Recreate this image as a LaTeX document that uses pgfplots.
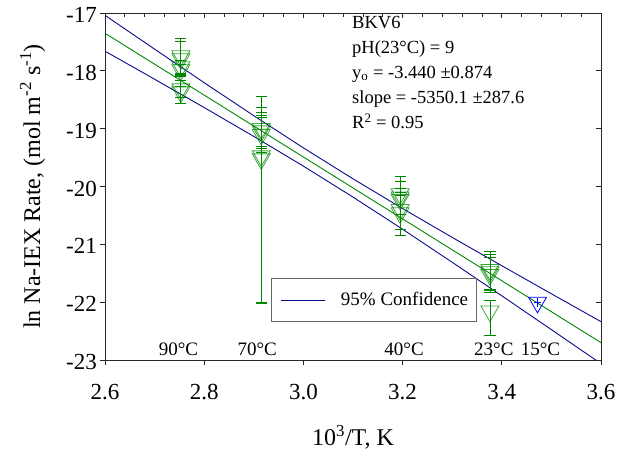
\documentclass[border=0pt]{standalone}
\usepackage{fontspec}
\setmainfont{Liberation Serif}
\usepackage{pgfplots}
\usepackage{pgfplotstable}
\pgfplotsset{compat=1.18}

\definecolor{fitgreen}{RGB}{0,135,0}
\definecolor{bandblue}{RGB}{10,10,140}
\definecolor{ptblue}{RGB}{0,0,255}

% green points: x, ln rate, error up, error down
\pgfplotstableread{
x      y        ep    em
2.753  -17.744  0.30  0.30
2.753  -17.796  0.31  0.30
2.753  -17.934  0.12  0.12
2.753  -17.986  0.10  0.10
2.753  -18.315  0.15  0.15
2.753  -18.367  0.10  0.19
2.915  -19.000  0.37  0.30
2.915  -19.042  0.28  0.30
2.915  -19.102  0.29  0.30
2.915  -19.474  1.03  2.53
2.915  -19.526  0.80  2.50
3.195  -20.128  0.31  0.35
3.195  -20.185  0.27  0.30
3.195  -20.227  0.20  0.25
3.195  -20.400  0.30  0.35
3.195  -20.457  0.30  0.38
3.376  -21.438  0.31  0.35
3.376  -21.478  0.31  0.36
3.376  -21.524  0.30  0.25
3.376  -22.156  0.19  0.41
}\greenpts

\pgfplotstableread{
x      y        ex     ey
3.472  -22.005  0.008  0.07
}\bluepts

% regression and 95% band
\pgfplotstableread{
x    fit      up       lo
2.6  -17.350  -17.040  -17.660
2.7  -17.885  -17.625  -18.145
2.8  -18.420  -18.205  -18.635
2.9  -18.955  -18.776  -19.134
3.0  -19.490  -19.332  -19.648
3.1  -20.025  -19.867  -20.183
3.2  -20.560  -20.381  -20.739
3.3  -21.095  -20.880  -21.310
3.4  -21.630  -21.370  -21.890
3.5  -22.165  -21.855  -22.475
3.6  -22.700  -22.337  -23.063
}\fitband

\pgfplotsset{
  frame/.style={
    at={(105bp,91bp)}, anchor=south west,
    scale only axis, width=496bp, height=347bp,
    xmin=2.6, xmax=3.6, ymin=-23, ymax=-17,
    axis line style={line width=0.8bp, black!85},
    every tick/.style={line width=0.8bp, black!85},
    major tick length=5bp, minor tick length=3.5bp,
  },
}

\begin{document}
\begin{tikzpicture}
\path[use as bounding box] (0,0) rectangle (624bp,451bp);

% top / right ticks inward
\begin{axis}[frame,
  tick align=inside,
  xtick pos=top, ytick pos=right,
  xtick={2.6,2.8,3.0,3.2,3.4,3.6}, minor x tick num=4,
  ytick={-23,-22,-21,-20,-19,-18,-17},
  xticklabels={}, yticklabels={},
]
\end{axis}

% bottom minor ticks inward
\begin{axis}[frame,
  tick align=inside,
  xtick pos=bottom, ytick pos=left,
  xtick=\empty, ytick=\empty,
  minor xtick={2.64,2.68,2.72,2.76,2.84,2.88,2.92,2.96,3.04,3.08,3.12,3.16,3.24,3.28,3.32,3.36,3.44,3.48,3.52,3.56},
]
\end{axis}

% main axis with data
\begin{axis}[frame,
  tick align=outside,
  xtick pos=bottom, ytick pos=left,
  xtick={2.6,2.8,3.0,3.2,3.4,3.6},
  ytick={-23,-22,-21,-20,-19,-18,-17},
  /pgf/number format/assume math mode=true,
  tick label style={font=\fontsize{23bp}{27bp}\selectfont, inner sep=0pt},
  xticklabel style={anchor=north, yshift=-19bp,
    /pgf/number format/.cd, fixed, fixed zerofill, precision=1},
  yticklabel style={anchor=east, xshift=-3bp, yshift=-2bp},
  xlabel={10\textsuperscript{3}/T, K},
  ylabel={ln Na-IEX Rate, (mol m\textsuperscript{-2} s\textsuperscript{-1})},
  label style={font=\fontsize{24bp}{28bp}\selectfont, inner sep=0pt},
  xlabel style={at={(axis description cs:0.5,0)}, anchor=base, yshift=-85bp},
  ylabel style={at={(axis description cs:-0.131,0.5)}, anchor=base},
  clip=true,
  legend style={at={(0.335,0.236)}, anchor=north west,
    draw=black!60, line width=0.8bp, fill=white,
    inner xsep=8.5bp, inner ysep=13.5bp,
    font=\fontsize{19bp}{22bp}\selectfont,
    nodes={inner sep=0pt, text height=13bp, text depth=3bp},
    column sep=16bp},
  legend image code/.code={\draw[#1] (0bp,0bp) -- (44bp,0bp);},
]

\addplot[bandblue, line width=0.9bp] table[x=x, y=up] {\fitband};
\addlegendentry{95\% Confidence}
\addplot[bandblue, line width=0.9bp, forget plot] table[x=x, y=lo] {\fitband};
\addplot[fitgreen, line width=0.9bp, forget plot] table[x=x, y=fit] {\fitband};

\addplot[only marks, forget plot, mark=triangle, mark size=10.4bp,
  mark options={rotate=180, draw=fitgreen, draw opacity=0.75, fill=none, line width=0.8bp},
  error bars/.cd, y dir=both, y explicit,
  error mark=-, error mark options={rotate=90, mark size=5.6bp, line width=0.8bp, fitgreen},
  error bar style={line width=0.8bp, fitgreen}]
  table[x=x, y=y, y error plus=ep, y error minus=em] {\greenpts};

\addplot[only marks, forget plot, mark=triangle, mark size=10.4bp,
  mark options={rotate=180, draw=ptblue, fill=none, line width=0.8bp},
  error bars/.cd, y dir=both, y explicit, x dir=both, x explicit,
  error mark=none,
  error bar style={line width=1.2bp, ptblue}]
  table[x=x, y=y, x error=ex, y error=ey] {\bluepts};

% temperature labels
\begin{scope}[every node/.style={font=\fontsize{19bp}{22bp}\selectfont, anchor=base, inner sep=0pt}]
\node at (axis cs:2.748,-22.917) {90°C};
\node at (axis cs:2.907,-22.917) {70°C};
\node at (axis cs:3.203,-22.917) {40°C};
\node at (axis cs:3.384,-22.917) {23°C};
\node at (axis cs:3.478,-22.917) {15°C};
\end{scope}

% regression summary
\begin{scope}[every node/.style={font=\fontsize{18.5bp}{22bp}\selectfont, anchor=base west, inner sep=0pt}]
\node at (axis cs:3.098,-17.265) {BKV6};
\node at (axis cs:3.098,-17.697) {pH(23°C) = 9};
\node at (axis cs:3.098,-18.130) {y\textsubscript{o} = -3.440 ±0.874};
\node at (axis cs:3.098,-18.562) {slope = -5350.1 ±287.6};
\node at (axis cs:3.098,-18.995) {R\textsuperscript{2} = 0.95};
\end{scope}

\end{axis}
\end{tikzpicture}
\end{document}
